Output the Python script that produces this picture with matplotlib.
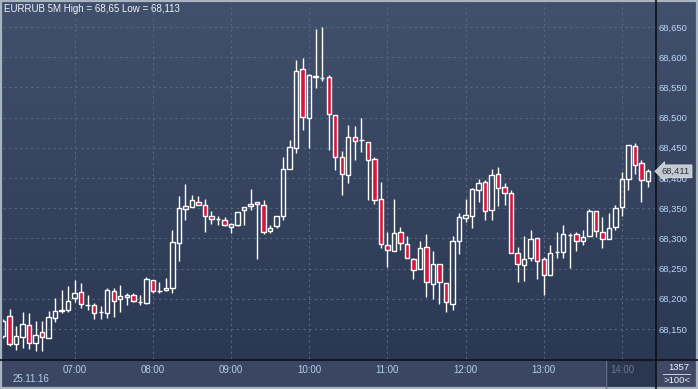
import numpy as np
import matplotlib
matplotlib.use('Agg')
from matplotlib import pyplot as plt
from matplotlib.patches import Rectangle
from matplotlib.lines import Line2D
from matplotlib.ticker import FixedLocator, FuncFormatter

plt.rcParams['font.family'] = ['Liberation Sans', 'DejaVu Sans']

# EURRUB, 5 minute candles, 06:05 .. 14:20 on 25.11.16
opens = [68.138, 68.172, 68.125, 68.137, 68.157, 68.127, 68.145, 68.135, 68.168, 68.180,
         68.181, 68.201, 68.211, 68.190, 68.190, 68.178, 68.176, 68.213, 68.200, 68.203,
         68.206, 68.195, 68.193, 68.231, 68.213, 68.215, 68.218, 68.292, 68.349, 68.352,
         68.360, 68.355, 68.337, 68.332, 68.330, 68.319, 68.322, 68.347, 68.354, 68.360,
         68.355, 68.312, 68.321, 68.337, 68.415, 68.450, 68.580, 68.499, 68.569, 68.566,
         68.567, 68.504, 68.435, 68.405, 68.468, 68.463, 68.460, 68.431, 68.365, 68.289,
         68.279, 68.311, 68.291, 68.266, 68.249, 68.286, 68.225, 68.258, 68.226, 68.191,
         68.296, 68.334, 68.337, 68.380, 68.393, 68.347, 68.407, 68.385, 68.375, 68.276,
         68.256, 68.268, 68.301, 68.266, 68.239, 68.277, 68.277, 68.306, 68.307, 68.296,
         68.304, 68.345, 68.311, 68.299, 68.319, 68.352, 68.398, 68.453, 68.425, 68.395]
highs = [68.167, 68.183, 68.155, 68.178, 68.176, 68.163, 68.163, 68.180, 68.201, 68.215,
         68.221, 68.231, 68.226, 68.206, 68.193, 68.188, 68.218, 68.218, 68.223, 68.210,
         68.210, 68.206, 68.236, 68.231, 68.228, 68.234, 68.314, 68.370, 68.390, 68.372,
         68.370, 68.365, 68.345, 68.337, 68.335, 68.325, 68.344, 68.352, 68.382, 68.360,
         68.364, 68.322, 68.337, 68.435, 68.463, 68.595, 68.599, 68.572, 68.647, 68.650,
         68.571, 68.504, 68.445, 68.488, 68.486, 68.499, 68.460, 68.435, 68.393, 68.311,
         68.365, 68.319, 68.304, 68.268, 68.296, 68.307, 68.279, 68.258, 68.226, 68.304,
         68.342, 68.365, 68.383, 68.398, 68.397, 68.415, 68.418, 68.392, 68.380, 68.286,
         68.304, 68.314, 68.301, 68.269, 68.289, 68.311, 68.322, 68.309, 68.311, 68.314,
         68.349, 68.345, 68.335, 68.342, 68.355, 68.410, 68.455, 68.458, 68.430, 68.415]
lows = [68.135, 68.122, 68.115, 68.119, 68.117, 68.113, 68.114, 68.135, 68.162, 68.176,
        68.178, 68.195, 68.185, 68.181, 68.167, 68.167, 68.168, 68.170, 68.178, 68.190,
        68.195, 68.190, 68.191, 68.210, 68.210, 68.213, 68.210, 68.263, 68.330, 68.352,
        68.355, 68.311, 68.324, 68.322, 68.321, 68.309, 68.321, 68.322, 68.347, 68.266,
        68.307, 68.309, 68.317, 68.330, 68.415, 68.441, 68.479, 68.450, 68.549, 68.561,
        68.446, 68.413, 68.372, 68.392, 68.430, 68.443, 68.364, 68.357, 68.284, 68.253,
        68.279, 68.281, 68.268, 68.233, 68.249, 68.203, 68.200, 68.191, 68.178, 68.181,
        68.274, 68.327, 68.317, 68.360, 68.330, 68.330, 68.354, 68.355, 68.276, 68.228,
        68.229, 68.263, 68.233, 68.206, 68.239, 68.268, 68.268, 68.251, 68.279, 68.289,
        68.304, 68.302, 68.284, 68.299, 68.314, 68.337, 68.380, 68.407, 68.360, 68.385]
closes = [68.163, 68.125, 68.138, 68.158, 68.127, 68.140, 68.137, 68.170, 68.180, 68.181,
          68.196, 68.210, 68.191, 68.190, 68.176, 68.178, 68.215, 68.196, 68.205, 68.206,
          68.196, 68.195, 68.233, 68.213, 68.213, 68.218, 68.294, 68.350, 68.354, 68.364,
          68.355, 68.337, 68.332, 68.332, 68.322, 68.324, 68.344, 68.352, 68.357, 68.357,
          68.311, 68.317, 68.337, 68.415, 68.451, 68.577, 68.501, 68.571, 68.567, 68.566,
          68.506, 68.435, 68.407, 68.468, 68.461, 68.463, 68.430, 68.364, 68.291, 68.281,
          68.309, 68.292, 68.268, 68.248, 68.284, 68.228, 68.258, 68.228, 68.195, 68.296,
          68.335, 68.339, 68.382, 68.392, 68.345, 68.405, 68.383, 68.375, 68.276, 68.258,
          68.266, 68.299, 68.263, 68.239, 68.276, 68.277, 68.307, 68.306, 68.296, 68.302,
          68.345, 68.312, 68.299, 68.317, 68.350, 68.398, 68.455, 68.422, 68.397, 68.411]

hour_index = [11, 23, 35, 47, 59, 71, 83, 95]
hour_labels = ['07:00', '08:00', '09:00', '10:00', '11:00', '12:00', '13:00', '14:00']
price_ticks = [68.15, 68.20, 68.25, 68.30, 68.35, 68.40, 68.45, 68.50, 68.55, 68.60, 68.65]
last_price = 68.411
session_date = '25.11.16'
title = 'EURRUB 5M High = 68,65 Low = 68,113'
bar_count = '1357'
zoom_text = '>100<'

W, H = 698, 389
fig = plt.figure(figsize=(W / 100, H / 100), dpi=100)

# background panel in pixel coordinates
bg = fig.add_axes([0, 0, 1, 1], zorder=-5)
bg.set_xlim(0, W)
bg.set_ylim(H, 0)
bg.axis('off')
grad = np.linspace(0, 1, 256).reshape(-1, 1)
top_c = np.array([0x41, 0x50, 0x6c]) / 255
bot_c = np.array([0x2b, 0x38, 0x53]) / 255
img = top_c + (bot_c - top_c) * grad[..., None]
bg.imshow(img, extent=(0, W, 359, 0), aspect='auto', interpolation='bilinear')
bg.add_patch(Rectangle((0, 359), W, H - 359, color='#3b4762', lw=0))
bg.add_patch(Rectangle((655, 359), W - 655, H - 359, color='#3e4a65', lw=0))
bg.add_patch(Rectangle((605, 360), 50, H - 360, color='#2b374f', lw=0))
bg.add_line(Line2D([605.5, 605.5], [360, H], color='#66718a', lw=1))
bg.add_line(Line2D([0, W], [359.5, 359.5], color='#0c1018', lw=1.2))
bg.add_line(Line2D([655.5, 655.5], [0, H], color='#0c1018', lw=1.2))
bg.add_line(Line2D([663, 690], [373.5, 373.5], color='#c8d2e0', lw=0.7))
bg.add_patch(Rectangle((0.8, 0.8), W - 1.6, H - 1.6, fill=False, ec='#aab3c0', lw=1.6))

ax = fig.add_axes([3 / W, 30 / H, 652 / W, 356 / H])
ax.set_facecolor('none')
for s in ax.spines.values():
    s.set_visible(False)
ax.set_xlim(0, 100.08)
ax.set_ylim(68.1003, 68.6897)

o = np.array(opens)
c = np.array(closes)
hi = np.array(highs)
lo = np.array(lows)
x = np.arange(len(o))
top = np.maximum(o, c)
bot = np.minimum(o, c)
up = c >= o

ax.vlines(x, top, hi, color='white', lw=1.0, zorder=3)
ax.vlines(x, lo, bot, color='white', lw=1.0, zorder=3)
ax.bar(x[up], (top - bot)[up], bottom=bot[up], width=0.68, facecolor='none',
       edgecolor='white', linewidth=1.0, zorder=4)
ax.bar(x[~up], (top - bot)[~up], bottom=bot[~up], width=0.68, facecolor='#dc143c',
       edgecolor='white', linewidth=1.0, zorder=4)

ax.yaxis.tick_right()
ax.yaxis.set_major_locator(FixedLocator(price_ticks))
ax.yaxis.set_major_formatter(FuncFormatter(lambda v, p: f'{v:.3f}'.replace('.', ',')))
ax.tick_params(axis='y', length=0, pad=2.2, labelsize=6.8, labelcolor='#bcd6f6')
ax.set_xticks(hour_index)
ax.set_xticklabels(hour_labels)
ax.tick_params(axis='x', length=0, pad=4.3, labelsize=7, labelcolor='#b4cdee')
ax.get_xticklabels()[-1].set_color('#6c778c')
ax.grid(True, color='#5a6983', linestyle=(0, (2, 3)), linewidth=0.8, zorder=1)
ax.set_axisbelow(True)

ax.annotate(f'{last_price:.3f}'.replace('.', ','), xy=(1, last_price),
            xycoords=ax.get_yaxis_transform(), xytext=(5, 0), textcoords='offset points',
            ha='left', va='center', fontsize=6.8, color='#2c323c', zorder=6,
            bbox=dict(boxstyle='larrow,pad=0.2', fc='#c3c8d1', ec='#dfe3ea', lw=0.6))

def px(xp, yp):
    return xp / W, 1 - yp / H

fig.text(*px(4, 8.5), title, ha='left', va='center', fontsize=7, color='#eef2f9')
fig.text(*px(31, 379), session_date, ha='center', va='center', fontsize=7, color='#b4cdee')
fig.text(*px(679, 367), bar_count, ha='center', va='center', fontsize=6.8, color='#eef2f8')
fig.text(*px(677, 380.5), zoom_text, ha='center', va='center', fontsize=6.8, color='#eef2f8')

fig.savefig('out.png', dpi=100)
